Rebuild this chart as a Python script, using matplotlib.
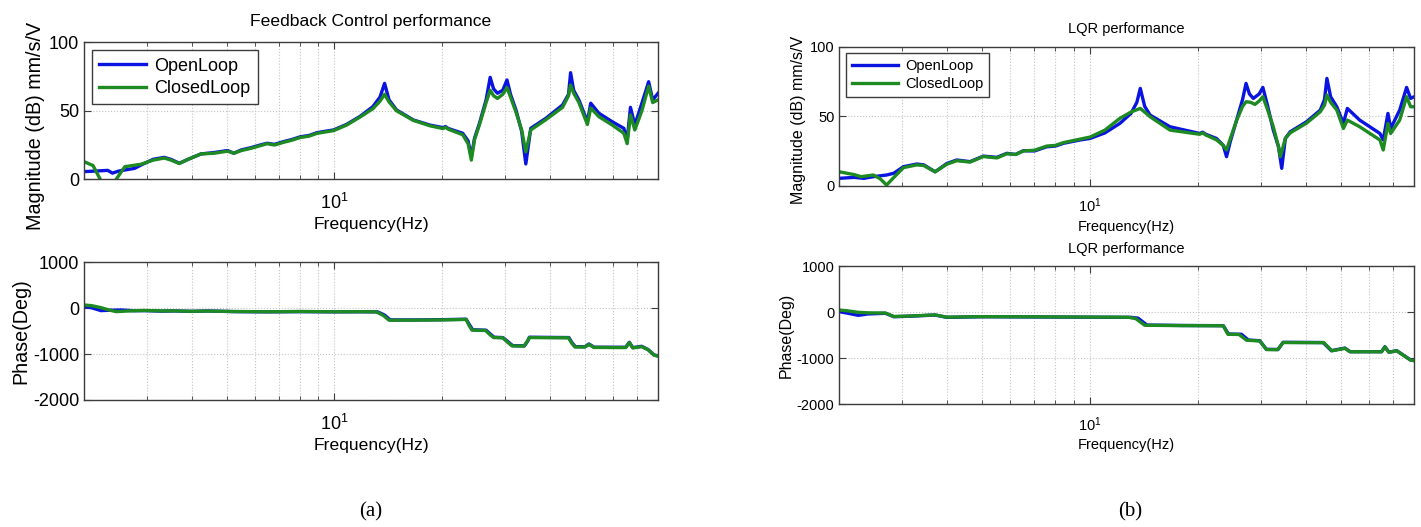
import numpy as np
import matplotlib
matplotlib.use('Agg')
import matplotlib.pyplot as plt
from matplotlib.ticker import LogLocator, NullFormatter, FixedLocator

plt.rcParams['font.family'] = ['Liberation Sans', 'DejaVu Sans']
plt.rcParams['mathtext.fontset'] = 'custom'
plt.rcParams['mathtext.rm'] = 'Liberation Sans'
plt.rcParams['mathtext.it'] = 'Liberation Sans'
plt.rcParams['axes.unicode_minus'] = False

# ---- (a) Feedback control: magnitude ----
fa_open = [2.0, 2.15, 2.33, 2.40, 2.50, 2.77, 2.89, 3.12, 3.35, 3.50, 3.69, 3.90, 4.24, 4.61,
           5.03, 5.24, 5.50, 5.83, 6.20, 6.49, 6.80, 7.21, 7.60, 8.03, 8.50, 8.93, 9.40, 9.94,
           10.8, 11.8, 12.8, 13.4, 13.8, 14.2, 14.9, 16.6, 18.5, 20.1, 20.4, 20.8, 22.8, 23.6,
           24.1, 24.6, 25.4, 26.5, 27.2, 27.8, 28.5, 29.5, 30.3, 31.0, 32.1, 33.3, 34.2, 35.3,
           38.9, 43.3, 45.0, 45.6, 46.5, 48.1, 50.8, 51.9, 54.7, 59.6, 64.2, 65.6, 67.0, 68.9,
           72.1, 75.3, 77.3, 80.0]
ma_open = [5.6, 6.0, 6.5, 4.5, 6.0, 8.0, 10.5, 14.6, 16.0, 14.5, 11.7, 14.5, 18.5, 19.5,
           21.0, 19.0, 21.5, 23.0, 25.0, 26.3, 25.5, 27.5, 29.0, 31.0, 32.0, 34.0, 35.0, 36.0,
           40.0, 46.0, 53.0, 60.0, 70.0, 58.0, 50.6, 43.3, 39.5, 37.7, 38.5, 37.0, 33.6, 28.0,
           16.5, 30.0, 41.0, 58.0, 74.4, 66.0, 62.8, 65.0, 72.5, 62.0, 50.6, 35.0, 11.2, 37.2,
           44.5, 54.2, 62.0, 77.8, 65.0, 57.9, 42.0, 55.5, 48.2, 42.0, 37.2, 28.7, 52.5, 39.6,
           55.5, 71.2, 57.9, 62.8]

fa_closed = [2.0, 2.12, 2.22, 2.30, 2.40, 2.46, 2.60, 2.89, 3.12, 3.35, 3.50, 3.69, 3.90, 4.24,
             4.61, 5.03, 5.24, 5.50, 5.83, 6.20, 6.49, 6.80, 7.21, 7.60, 8.03, 8.50, 8.93, 9.40,
             9.94, 10.8, 11.8, 12.8, 13.4, 13.8, 14.2, 14.9, 16.6, 18.5, 20.1, 20.4, 20.8, 22.8,
             23.6, 24.1, 24.6, 25.4, 26.5, 27.2, 27.8, 28.5, 29.5, 30.3, 31.0, 32.1, 33.3, 34.2,
             35.3, 38.9, 43.3, 45.0, 45.6, 46.5, 48.1, 50.8, 51.9, 54.7, 59.6, 64.2, 65.6, 67.0,
             68.9, 72.1, 75.3, 77.3, 80.0]
ma_closed = [12.9, 10.0, 0.0, -8.0, -5.0, 0.0, 9.2, 11.0, 14.0, 15.5, 14.0, 11.5, 14.5, 18.5,
             19.0, 20.5, 19.0, 21.0, 22.5, 24.5, 26.0, 25.0, 27.0, 28.5, 30.5, 31.5, 33.5, 34.5,
             35.5, 39.5, 45.5, 51.5, 57.0, 62.0, 56.5, 50.0, 43.0, 39.0, 37.0, 38.0, 36.5, 32.5,
             26.0, 14.0, 29.0, 40.0, 56.0, 65.0, 61.0, 59.0, 62.0, 67.0, 60.0, 49.0, 36.0, 20.0,
             36.0, 43.5, 52.5, 61.0, 68.8, 63.0, 56.0, 40.0, 52.0, 45.7, 39.6, 33.6, 26.0, 47.0,
             36.0, 50.0, 68.0, 56.0, 58.0]

# ---- (a) Feedback control: phase ----
fpa_open = [2.0, 2.1, 2.23, 2.35, 2.54, 2.75, 2.95, 3.3, 3.57, 4.0, 4.42, 5.24, 6.5, 8.0, 10.0,
            12.0, 13.2, 13.8, 14.3, 17.0, 20.0, 23.3, 23.9, 24.3, 26.5, 27.2, 27.9, 29.5, 30.5,
            31.4, 33.9, 34.6, 35.0, 45.1, 46.0, 47.0, 50.0, 51.3, 53.0, 65.0, 66.5, 68.0, 72.0,
            75.0, 78.0, 80.0]
pa_open = [34, 10, -53, -45, -39, -55, -53, -65, -60, -70, -60, -75, -80, -75, -80,
           -78, -80, -150, -255, -255, -250, -240, -380, -470, -480, -560, -633, -640, -730,
           -815, -820, -720, -633, -640, -750, -837, -840, -780, -850, -852, -743, -860, -830,
           -900, -1019, -1041]

fpa_closed = [2.0, 2.1, 2.23, 2.35, 2.46, 2.75, 2.95, 3.3, 3.57, 4.0, 4.42, 5.24, 6.5, 8.0, 10.0,
              12.0, 13.1, 13.7, 14.2, 17.0, 20.0, 23.3, 23.8, 24.2, 26.4, 27.1, 27.8, 29.5, 30.4,
              31.3, 33.8, 34.5, 35.0, 45.0, 45.9, 46.9, 50.0, 51.3, 53.0, 65.0, 66.5, 68.0, 72.0,
              75.0, 78.0, 80.0]
pa_closed = [70, 55, 12, -40, -75, -55, -50, -60, -58, -68, -62, -72, -78, -72, -78,
             -76, -80, -160, -262, -260, -255, -245, -390, -478, -485, -570, -640, -645, -740,
             -822, -825, -725, -640, -645, -760, -845, -845, -790, -855, -858, -750, -865, -838,
             -905, -1025, -1045]

# ---- (b) LQR: magnitude ----
fb_open = [2.0, 2.2, 2.34, 2.49, 2.71, 2.84, 3.02, 3.29, 3.44, 3.70, 3.99, 4.25, 4.63, 5.04,
           5.50, 5.86, 6.20, 6.52, 7.0, 7.57, 8.0, 8.43, 9.38, 10.0, 11.0, 12.1, 13.0, 13.5,
           13.8, 14.2, 14.7, 16.7, 20.2, 20.6, 21.0, 22.5, 23.5, 24.0, 24.6, 25.6, 26.6, 27.2,
           27.8, 28.5, 29.6, 30.3, 31.2, 32.4, 33.5, 34.2, 35.0, 36.1, 40.1, 43.8, 45.0, 45.7,
           46.8, 48.7, 50.8, 52.1, 56.4, 64.2, 65.6, 67.6, 68.8, 72.9, 76.2, 78.2, 80.0]
mb_open = [5.3, 6.0, 5.3, 6.5, 7.7, 9.0, 13.7, 15.6, 15.0, 10.0, 16.0, 18.5, 17.3, 21.3,
           20.4, 23.3, 22.5, 25.2, 25.0, 28.0, 28.5, 30.5, 32.9, 34.0, 38.0, 44.8, 52.0, 60.0,
           70.0, 57.0, 50.8, 42.4, 37.6, 38.5, 37.0, 34.0, 29.0, 20.9, 32.0, 47.2, 62.0, 73.6,
           66.0, 62.8, 66.0, 70.7, 58.0, 40.0, 28.0, 12.5, 34.0, 38.8, 46.0, 54.4, 62.0, 77.2,
           64.0, 56.8, 44.8, 55.6, 47.2, 37.6, 32.9, 52.0, 41.2, 54.4, 70.7, 62.8, 64.0]

fb_closed = [2.0, 2.2, 2.30, 2.49, 2.60, 2.71, 2.84, 3.02, 3.29, 3.44, 3.70, 3.99, 4.25, 4.63,
             5.04, 5.50, 5.86, 6.20, 6.52, 7.0, 7.57, 8.0, 8.43, 9.38, 10.0, 11.0, 12.1, 13.0,
             13.8, 14.7, 16.7, 20.2, 20.6, 21.0, 22.5, 23.5, 24.0, 24.6, 25.6, 26.6, 27.2, 28.0,
             28.8, 29.6, 30.3, 31.2, 32.4, 33.5, 33.9, 35.0, 36.1, 40.1, 43.8, 45.0, 45.7, 46.8,
             48.7, 50.8, 52.1, 56.4, 64.2, 65.6, 67.6, 68.8, 72.9, 76.2, 78.2, 80.0]
mb_closed = [10.0, 8.0, 6.5, 7.7, 5.0, 0.5, 6.0, 13.0, 15.0, 14.5, 10.0, 15.5, 18.0, 17.0,
             21.0, 20.0, 23.0, 22.5, 25.0, 25.5, 28.5, 29.0, 31.0, 33.5, 35.0, 40.0, 48.4, 53.0,
             55.6, 49.6, 40.0, 37.0, 38.0, 36.5, 33.0, 29.0, 25.7, 34.0, 47.0, 57.0, 60.4, 60.0,
             58.5, 61.0, 64.0, 55.0, 42.4, 28.0, 20.9, 34.0, 38.0, 45.0, 53.2, 58.0, 65.2, 60.0,
             54.4, 41.2, 47.2, 42.4, 32.9, 25.7, 44.8, 37.6, 47.2, 64.0, 56.8, 56.8]

# ---- (b) LQR: phase ----
fpb_open = [2.0, 2.1, 2.26, 2.4, 2.69, 2.84, 3.22, 3.70, 3.99, 5.0, 7.0, 10.0, 12.1, 13.0,
            13.6, 14.4, 18.0, 23.5, 24.3, 26.4, 27.6, 29.7, 31.0, 33.4, 34.5, 44.6, 47.0, 51.3,
            53.0, 64.9, 66.3, 68.0, 71.5, 78.2, 80.0]
pb_open = [10, -20, -70, -40, -25, -100, -85, -63, -114, -100, -105, -110, -113, -113,
           -130, -280, -290, -294, -475, -480, -605, -620, -807, -810, -655, -660, -836, -780,
           -858, -858, -750, -870, -836, -1039, -1050]

fpb_closed = [2.0, 2.1, 2.26, 2.4, 2.69, 2.84, 3.22, 3.70, 3.99, 5.0, 7.0, 10.0, 12.1, 12.8,
              13.4, 14.2, 18.0, 23.5, 24.2, 26.0, 27.3, 29.7, 31.0, 33.3, 34.5, 44.8, 47.2, 51.3,
              53.0, 64.9, 66.3, 68.0, 71.5, 78.2, 80.0]
pb_closed = [45, 30, -5, -15, -20, -95, -82, -60, -110, -98, -102, -108, -110, -112,
             -140, -285, -292, -296, -480, -485, -610, -625, -812, -815, -660, -662, -840, -785,
             -860, -860, -755, -872, -838, -1042, -1052]

BLUE = '#0a14e0'
GREEN = '#1d8a22'
EDGE = '#3c3c3c'


def style_axes(ax, yticks, ylim, fs, xpad):
    ax.set_xscale('log')
    ax.set_xlim(2, 80)
    ax.set_ylim(*ylim)
    ax.set_yticks(yticks)
    ax.xaxis.set_major_locator(FixedLocator([10]))
    ax.xaxis.set_minor_locator(LogLocator(base=10, subs=np.arange(2, 10)))
    ax.xaxis.set_minor_formatter(NullFormatter())
    ax.grid(True, which='both', axis='x', ls=':', color='#c4c4c4', lw=0.8)
    ax.grid(True, which='major', axis='y', ls=':', color='#c4c4c4', lw=0.8)
    ax.tick_params(which='both', direction='in', top=True, right=True,
                   labelsize=fs, color=EDGE)
    ax.tick_params(which='major', length=5)
    ax.tick_params(which='minor', length=3)
    ax.tick_params(axis='x', pad=xpad)
    for s in ax.spines.values():
        s.set_color(EDGE)
        s.set_linewidth(1.0)


def panel(fig, rect_mag, rect_ph, mag_o, mag_c, ph_o, ph_c, fs, fs_lab, fs_y,
          title, tpad, xpad, hl, ylab_y, ph_title=None):
    ax1 = fig.add_axes(rect_mag)
    ax1.plot(mag_o[0], mag_o[1], color=BLUE, lw=2.4, label='OpenLoop')
    ax1.plot(mag_c[0], mag_c[1], color=GREEN, lw=2.4, label='ClosedLoop')
    style_axes(ax1, [0, 50, 100], (0, 100), fs, xpad)
    ax1.set_title(title, fontsize=fs_lab, pad=tpad)
    ax1.set_xlabel('Frequency(Hz)', fontsize=fs_lab, labelpad=3)
    ax1.set_ylabel('Magnitude (dB) mm/s/V', fontsize=fs_y, labelpad=3)
    ax1.yaxis.label.set_y(ylab_y)
    leg = ax1.legend(loc='upper left', fontsize=fs, fancybox=False, framealpha=1,
                     borderaxespad=0.45, handlelength=hl, handletextpad=0.45,
                     labelspacing=0.3, borderpad=0.4)
    leg.get_frame().set_edgecolor(EDGE)
    leg.get_frame().set_linewidth(1.0)

    ax2 = fig.add_axes(rect_ph)
    ax2.plot(ph_o[0], ph_o[1], color=BLUE, lw=2.4)
    ax2.plot(ph_c[0], ph_c[1], color=GREEN, lw=2.4)
    style_axes(ax2, [-2000, -1000, 0, 1000], (-2000, 1000), fs, xpad)
    if ph_title:
        ax2.set_title(ph_title, fontsize=fs_lab, pad=tpad)
    ax2.set_xlabel('Frequency(Hz)', fontsize=fs_lab, labelpad=3)
    ax2.set_ylabel('Phase(Deg)', fontsize=fs_y, labelpad=2)
    return ax1, ax2


fig = plt.figure(figsize=(14.21, 5.27), dpi=100)

panel(fig, [0.0591, 0.6598, 0.4040, 0.2600], [0.0591, 0.2410, 0.4040, 0.2613],
      (fa_open, ma_open), (fa_closed, ma_closed),
      (fpa_open, pa_open), (fpa_closed, pa_closed),
      13, 12.6, 14.2, 'Feedback Control performance', 12, 10, 2.6, 0.39)

panel(fig, [0.5906, 0.6476, 0.4046, 0.2638], [0.5906, 0.2328, 0.4046, 0.2624],
      (fb_open, mb_open), (fb_closed, mb_closed),
      (fpb_open, pb_open), (fpb_closed, pb_closed),
      10.5, 10.5, 11.5, 'LQR performance', 9.5, 8, 3.2, 0.47, ph_title='LQR performance')

fig.text(0.261, 0.028, '(a)', fontsize=15, family='Liberation Serif', ha='center', va='center')
fig.text(0.795, 0.028, '(b)', fontsize=15, family='Liberation Serif', ha='center', va='center')

fig.savefig('out.png', dpi=100)
